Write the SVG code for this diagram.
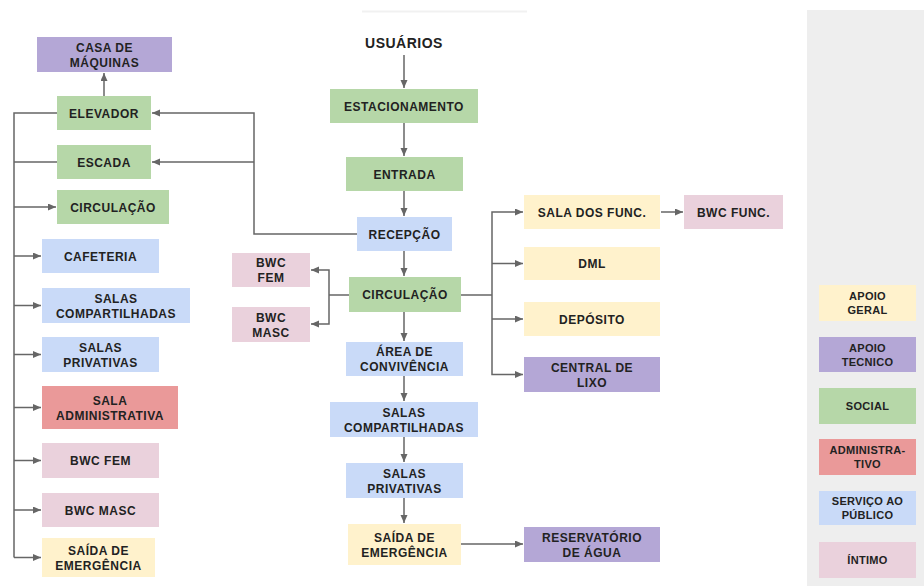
<svg xmlns="http://www.w3.org/2000/svg" width="924" height="586" viewBox="0 0 924 586">
<style>
text{font-family:"Liberation Sans",Arial,sans-serif;font-weight:bold;font-size:12px;fill:#222;text-anchor:middle;letter-spacing:0.5px}
.lg text{font-size:11px;letter-spacing:0.3px}
.g{fill:#b6d7a8}.b{fill:#c9daf8}.p{fill:#b4a7d6}.y{fill:#fff2cc}.k{fill:#ead1dc}.r{fill:#ea9999}
.c{fill:none;stroke:#666;stroke-width:1.5}
.a{marker-end:url(#ah)}
</style>
<defs>
<marker id="ah" markerUnits="userSpaceOnUse" markerWidth="9" markerHeight="8" refX="8" refY="3.5" orient="auto">
<path d="M0,0 L8,3.5 L0,7 z" fill="#666"/>
</marker>
</defs>
<rect width="924" height="586" fill="#fff"/>
<rect x="807" y="10" width="117" height="576" fill="#eeeeee"/>
<line x1="362" y1="11.5" x2="527" y2="11.5" stroke="#f1f1f1" stroke-width="2"/>

<g id="connectors">
<path class="c a" d="M104,96 V73"/>
<path class="c" d="M57,113 H14 V557.5"/>
<path class="c" d="M57,162 H14"/>
<path class="c a" d="M14,207 H56"/>
<path class="c a" d="M14,256 H41"/>
<path class="c a" d="M14,305.5 H41"/>
<path class="c a" d="M14,354.5 H41"/>
<path class="c a" d="M14,407.5 H41"/>
<path class="c a" d="M14,460.5 H41"/>
<path class="c a" d="M14,510 H41"/>
<path class="c a" d="M14,557.5 H41"/>
<path class="c a" d="M357,234 H254 V113 H152"/>
<path class="c a" d="M254,162 H152"/>
<path class="c a" d="M404,55 V88"/>
<path class="c a" d="M404,123 V156"/>
<path class="c a" d="M404,191 V216"/>
<path class="c a" d="M404,251 V276"/>
<path class="c a" d="M404,312 V341"/>
<path class="c a" d="M404,376 V401"/>
<path class="c a" d="M404,437 V462"/>
<path class="c a" d="M404,498 V523"/>
<path class="c a" d="M461,544 H523"/>
<path class="c" d="M349,295 H329"/>
<path class="c a" d="M329,295 V270 H311"/>
<path class="c a" d="M329,295 V324 H311"/>
<path class="c" d="M461,295 H492"/>
<path class="c a" d="M492,295 V212 H523"/>
<path class="c a" d="M492,263.5 H523"/>
<path class="c a" d="M492,295 V374.5 H523"/>
<path class="c a" d="M492,319 H523"/>
<path class="c a" d="M661,212 H683"/>
</g>

<g id="casa"><rect class="p" x="37" y="37" width="135" height="35"/><text x="104.5" y="51.5">CASA DE</text><text x="104.5" y="66.5">MÁQUINAS</text></g>
<g id="elevador"><rect class="g" x="57" y="96" width="94" height="34"/><text x="104" y="117.5">ELEVADOR</text></g>
<g id="escada"><rect class="g" x="57" y="145" width="94" height="34"/><text x="104" y="166.5">ESCADA</text></g>
<g id="circulacao-l"><rect class="g" x="57" y="190" width="112" height="34"/><text x="113" y="211.5">CIRCULAÇÃO</text></g>
<g id="cafeteria"><rect class="b" x="42" y="239" width="117" height="34"/><text x="100.5" y="260.5">CAFETERIA</text></g>
<g id="salas-comp-l"><rect class="b" x="42" y="288" width="148" height="35"/><text x="116" y="302.5">SALAS</text><text x="116" y="317.5">COMPARTILHADAS</text></g>
<g id="salas-priv-l"><rect class="b" x="42" y="337" width="117" height="35"/><text x="100.5" y="351.5">SALAS</text><text x="100.5" y="366.5">PRIVATIVAS</text></g>
<g id="sala-adm"><rect class="r" x="42" y="386" width="136" height="43"/><text x="110" y="404.5">SALA</text><text x="110" y="419.5">ADMINISTRATIVA</text></g>
<g id="bwc-fem-l"><rect class="k" x="42" y="443" width="117" height="35"/><text x="100.5" y="465">BWC FEM</text></g>
<g id="bwc-masc-l"><rect class="k" x="42" y="493" width="117" height="34"/><text x="100.5" y="514.5">BWC MASC</text></g>
<g id="saida-l"><rect class="y" x="42" y="538" width="113" height="39"/><text x="98.5" y="554.5">SAÍDA DE</text><text x="98.5" y="569.5">EMERGÊNCIA</text></g>

<g id="usuarios"><text x="404" y="48" style="font-size:14px">USUÁRIOS</text></g>
<g id="estacionamento"><rect class="g" x="330" y="89" width="148" height="34"/><text x="404" y="110.5">ESTACIONAMENTO</text></g>
<g id="entrada"><rect class="g" x="346" y="157" width="117" height="34"/><text x="404.5" y="178.5">ENTRADA</text></g>
<g id="recepcao"><rect class="b" x="357" y="217" width="95" height="34"/><text x="404.5" y="238.5">RECEPÇÃO</text></g>
<g id="circulacao-c"><rect class="g" x="349" y="277" width="112" height="35"/><text x="405" y="299">CIRCULAÇÃO</text></g>
<g id="bwc-fem-c"><rect class="k" x="232" y="253" width="78" height="34"/><text x="271" y="267">BWC</text><text x="271" y="282">FEM</text></g>
<g id="bwc-masc-c"><rect class="k" x="232" y="307" width="78" height="35"/><text x="271" y="321.5">BWC</text><text x="271" y="336.5">MASC</text></g>
<g id="area-conv"><rect class="b" x="346" y="342" width="117" height="34"/><text x="404.5" y="356">ÁREA DE</text><text x="404.5" y="371">CONVIVÊNCIA</text></g>
<g id="salas-comp-c"><rect class="b" x="330" y="402" width="148" height="35"/><text x="404" y="416.5">SALAS</text><text x="404" y="431.5">COMPARTILHADAS</text></g>
<g id="salas-priv-c"><rect class="b" x="346" y="463" width="117" height="35"/><text x="404.5" y="477.5">SALAS</text><text x="404.5" y="492.5">PRIVATIVAS</text></g>
<g id="saida-c"><rect class="y" x="348" y="524" width="113" height="41"/><text x="404.5" y="541.5">SAÍDA DE</text><text x="404.5" y="556.5">EMERGÊNCIA</text></g>
<g id="reservatorio"><rect class="p" x="524" y="527" width="136" height="35"/><text x="592" y="541.5">RESERVATÓRIO</text><text x="592" y="556.5">DE ÁGUA</text></g>

<g id="sala-func"><rect class="y" x="524" y="195" width="136" height="34"/><text x="592" y="216.5">SALA DOS FUNC.</text></g>
<g id="bwc-func"><rect class="k" x="684" y="195" width="99" height="34"/><text x="733.5" y="216.5">BWC FUNC.</text></g>
<g id="dml"><rect class="y" x="524" y="247" width="136" height="33"/><text x="592" y="268">DML</text></g>
<g id="deposito"><rect class="y" x="524" y="302" width="136" height="34"/><text x="592" y="323.5">DEPÓSITO</text></g>
<g id="central-lixo"><rect class="p" x="524" y="357" width="136" height="35"/><text x="592" y="371.5">CENTRAL DE</text><text x="592" y="386.5">LIXO</text></g>

<g id="legend" class="lg">
<g id="lg-apoio-geral"><rect class="y" x="819" y="285" width="97" height="36"/><text x="867.5" y="300">APOIO</text><text x="867.5" y="314">GERAL</text></g>
<g id="lg-apoio-tecnico"><rect class="p" x="819" y="337" width="97" height="35"/><text x="867.5" y="351.5">APOIO</text><text x="867.5" y="365.5">TECNICO</text></g>
<g id="lg-social"><rect class="g" x="819" y="388" width="97" height="36"/><text x="867.5" y="410">SOCIAL</text></g>
<g id="lg-adm"><rect class="r" x="819" y="439" width="97" height="36"/><text x="867.5" y="454">ADMINISTRA-</text><text x="867.5" y="468">TIVO</text></g>
<g id="lg-servico"><rect class="b" x="819" y="491" width="97" height="34"/><text x="867.5" y="505">SERVIÇO AO</text><text x="867.5" y="519">PÚBLICO</text></g>
<g id="lg-intimo"><rect class="k" x="819" y="542" width="97" height="36"/><text x="867.5" y="564">ÍNTIMO</text></g>
</g>
</svg>
